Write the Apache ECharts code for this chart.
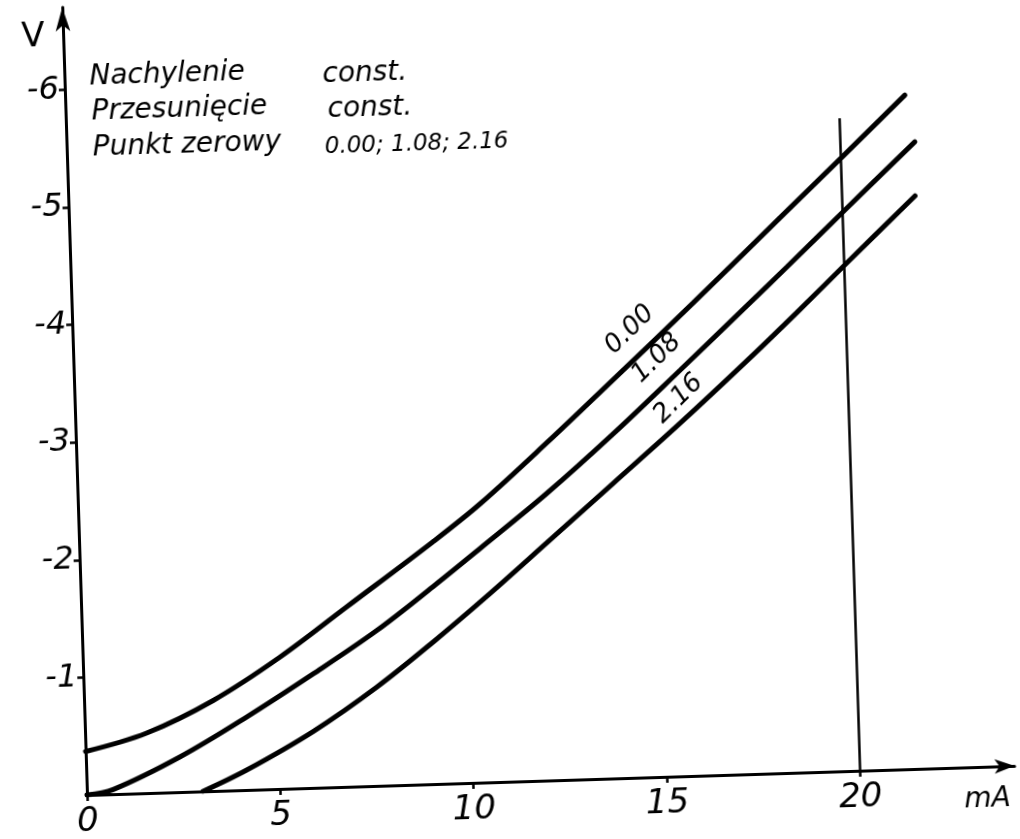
<!DOCTYPE html>
<html>
<head>
<meta charset="utf-8">
<title>Punkt zerowy 0.00; 1.08; 2.16</title>
<script src="https://cdn.jsdelivr.net/npm/echarts@6/dist/echarts.min.js"></script>
<style>
    html, body { margin: 0; padding: 0; background: #fff; overflow: hidden; }
    /* skan jest lekko obrocony */
    #wykres {
        width: 1020px;
        height: 880px;
        transform: rotate(-1.8deg);
        transform-origin: 87px 795px;
    }
</style>
</head>
<body>
<div id="wykres"></div>
<script>
// dane: [mA, V]
var krzywa000 = [[0, -0.37], [1.59, -0.51], [3.34, -0.77], [5.10, -1.12], [6.87, -1.53], [9.15, -2.06],
    [10.40, -2.37], [12.17, -2.87], [13.94, -3.39], [16.07, -4.02], [18.38, -4.72], [20.07, -5.23], [21.71, -5.73]];
var krzywa108 = [[0, 0], [0.68, -0.04], [2.44, -0.30], [4.19, -0.62], [5.95, -0.97], [7.62, -1.32], [9.12, -1.68],
    [10.36, -1.99], [12.13, -2.44], [13.90, -2.93], [15.67, -3.45], [17.45, -3.98], [18.52, -4.30], [20.07, -4.77], [21.93, -5.33]];
var krzywa216 = [[3.0, 0], [4.15, -0.17], [5.90, -0.48], [7.58, -0.84], [9.08, -1.21], [10.49, -1.58], [12.09, -2.02],
    [13.86, -2.51], [15.63, -3.00], [17.40, -3.51], [18.74, -3.91], [20.11, -4.33], [21.89, -4.87]];
var nazwyKrzywych = ['0.00', '1.08', '2.16'];
var opisyKrzywych = [[14.41, -3.81], [15.08, -3.56], [15.61, -3.21]];

var xTicks = [0, 5, 10, 15, 20];
var yTicks = [-1, -2, -3, -4, -5, -6];

// pionowa linia przy 20 mA
var liniaX = 20;
var liniaGora = -5.55;

var naglowek = [['Nachylenie', 'const.'], ['Przesunięcie', 'const.'], ['Punkt zerowy', '0.00; 1.08; 2.16']];

var czcionka = '"DejaVu Sans", sans-serif';

function initWykres() {
    var myChart = echarts.init(document.getElementById('wykres'));

    var seria = function (nazwa, dane) {
        return {
            name: nazwa,
            type: 'line',
            data: dane,
            smooth: 0.35,
            symbol: 'none',
            showSymbol: false,
            silent: true,
            lineStyle: { color: '#000', width: 5, cap: 'round' }
        };
    };

    var series = [seria(nazwyKrzywych[0], krzywa000), seria(nazwyKrzywych[1], krzywa108), seria(nazwyKrzywych[2], krzywa216)];
    series[0].markLine = {
        silent: true,
        symbol: 'none',
        label: { show: false },
        lineStyle: { color: '#000', width: 2.5, type: 'solid' },
        data: [[{ coord: [liniaX, 0] }, { coord: [liniaX, liniaGora] }]]
    };

    var option = {
        animation: false,
        backgroundColor: '#fff',
        grid: {
            left: 87,
            right: 5,
            top: 7,
            bottom: 85,
            outerBoundsMode: 'none'
        },
        xAxis: {
            type: 'value',
            min: 0,
            max: 24,
            axisLine: {
                show: true,
                onZero: false,
                symbol: ['none', 'arrow'],
                symbolSize: [11, 20],
                lineStyle: { color: '#000', width: 3 }
            },
            axisTick: {
                show: true,
                customValues: xTicks,
                length: 6,
                lineStyle: { color: '#000', width: 2.5 }
            },
            axisLabel: {
                customValues: xTicks,
                margin: 10,
                color: '#000',
                fontFamily: czcionka,
                fontStyle: 'italic',
                fontSize: 34
            },
            splitLine: { show: false }
        },
        yAxis: {
            type: 'value',
            min: -6.7,
            max: 0,
            inverse: true,
            axisLine: {
                show: true,
                onZero: false,
                symbol: ['none', 'arrow'],
                symbolSize: [11, 24],
                lineStyle: { color: '#000', width: 3 }
            },
            axisTick: {
                show: true,
                customValues: yTicks,
                length: 6,
                lineStyle: { color: '#000', width: 2.5 }
            },
            axisLabel: {
                customValues: yTicks,
                margin: 6,
                color: '#000',
                fontFamily: czcionka,
                fontStyle: 'italic',
                fontSize: 32
            },
            splitLine: { show: false }
        },
        series: series
    };

    myChart.setOption(option);

    // napisy
    var tekst = function (x, y, t, rozmiar, wyr, styl, obrot) {
        return {
            type: 'text',
            x: x,
            y: y,
            rotation: obrot || 0,
            silent: true,
            style: {
                text: t,
                fill: '#000',
                font: (styl || 'italic') + ' ' + rozmiar + 'px ' + czcionka,
                align: wyr,
                verticalAlign: 'middle'
            }
        };
    };

    var wiersze = [[112, 78, 345, 83], [113, 113, 349, 118], [113, 149, 345, 155]];
    var graphic = [];
    naglowek.forEach(function (w, i) {
        graphic.push(tekst(wiersze[i][0], wiersze[i][1], w[0], 28, 'left'));
        graphic.push(tekst(wiersze[i][2], wiersze[i][3], w[1], i === 2 ? 23 : 28, 'left'));
    });
    graphic.push(tekst(57, 36, 'V', 34, 'center', 'normal'));
    graphic.push(tekst(987, 828, 'mA', 28, 'center'));

    opisyKrzywych.forEach(function (p, i) {
        var px = myChart.convertToPixel({ gridIndex: 0 }, p);
        graphic.push(tekst(px[0], px[1], nazwyKrzywych[i], 26, 'center', 'italic', 43 * Math.PI / 180));
    });

    myChart.setOption({ graphic: graphic });
}

initWykres();
</script>
</body>
</html>
